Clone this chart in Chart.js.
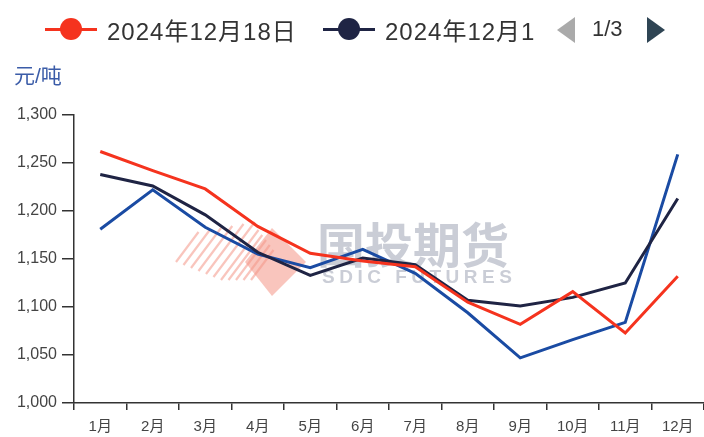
<!DOCTYPE html>
<html>
<head>
<meta charset="utf-8">
<script src="https://cdn.jsdelivr.net/npm/chart.js@4.4.1/dist/chart.umd.min.js"></script>
<style>
  html, body { margin: 0; padding: 0; background: #fff; }
  #wrap { position: relative; width: 704px; height: 437px; overflow: hidden; font-family: "Liberation Sans", "Noto Sans CJK SC", sans-serif; }
  #c { position: absolute; left: 0; top: 0; }
  .leg { position: absolute; top: 14px; height: 30px; display: flex; align-items: center; font-size: 24px; letter-spacing: 1px; color: #333; white-space: nowrap; }
  .icon { position: relative; width: 52px; height: 22px; margin-right: 10px; }
  .icon .ln { position: absolute; left: 0; top: 10px; width: 52px; height: 2.5px; }
  .icon .dot { position: absolute; left: 15px; top: 0px; width: 22px; height: 22px; border-radius: 50%; }
  .clip { overflow: hidden; display: inline-block; }
  #unit { position: absolute; left: 14px; top: 59px; font-size: 21px; color: #3b5ca8; }
  .tri { position: absolute; width: 0; height: 0; }
  #pg { position: absolute; left: 592px; top: 14px; font-size: 22px; color: #333; line-height: 30px; }
</style>
</head>
<body>
<div id="wrap">
  <canvas id="c" width="704" height="437"></canvas>
  <div class="leg" style="left:45px;"><div class="icon"><div class="ln" style="background:#f5331e"></div><div class="dot" style="background:#f5331e"></div></div><span id="l0"></span></div>
  <div class="leg" style="left:323px;"><div class="icon"><div class="ln" style="background:#1f2444"></div><div class="dot" style="background:#1f2444"></div></div><span id="l1" class="clip" style="width:150px"></span></div>
  <div class="tri" style="left:557px; top:17px; border-top:13px solid transparent; border-bottom:13px solid transparent; border-right:18px solid #aaaaaa;"></div>
  <div id="pg">1/3</div>
  <div class="tri" style="left:647px; top:17px; border-top:13px solid transparent; border-bottom:13px solid transparent; border-left:18px solid #2f4554;"></div>
  <div id="unit">元/吨</div>
</div>
<script>
const categories = ["1月","2月","3月","4月","5月","6月","7月","8月","9月","10月","11月","12月"];
const seriesNames = ["2024年12月18日","2024年12月11日","2024年12月4日"];
const seriesA = [1262, 1242, 1223, 1184, 1156, 1148, 1142, 1105, 1082, 1116, 1073, 1132];
const seriesB = [1238, 1226, 1196, 1157, 1133, 1151, 1144, 1107, 1101, 1110, 1125, 1213];
const seriesC = [1181, 1222, 1183, 1155, 1141, 1160, 1135, 1094, 1047, 1066, 1084, 1259];
const yMin = 1000, yMax = 1300, yStep = 50;

document.getElementById('l0').textContent = seriesNames[0];
document.getElementById('l1').textContent = seriesNames[1].slice(0, 10);

const watermark = {
  id: 'watermark',
  beforeDatasetsDraw(chart) {
    const ctx = chart.ctx;
    ctx.save();
    ctx.strokeStyle = 'rgba(244,150,135,0.55)';
    ctx.lineWidth = 2.2;
    for (let i = 0; i < 11; i++) {
      const x0 = 176 + i * 7.5;
      const len = 30 + Math.min(i, 10 - i) * 5;
      ctx.beginPath();
      ctx.moveTo(x0, 262 + Math.min(i,6)*3);
      ctx.lineTo(x0 + len * 0.75, 262 + Math.min(i,6)*3 - len);
      ctx.stroke();
    }
    ctx.fillStyle = 'rgba(244,150,135,0.55)';
    ctx.beginPath();
    ctx.moveTo(272, 228);
    ctx.lineTo(306, 262);
    ctx.lineTo(272, 296);
    ctx.lineTo(245, 262);
    ctx.closePath();
    ctx.fill();
    ctx.fillStyle = 'rgba(180,184,196,0.7)';
    ctx.font = 'bold 48px "Noto Sans CJK SC", sans-serif';
    ctx.textBaseline = 'middle';
    ctx.textAlign = 'left';
    ctx.fillText('国投期货', 317, 245);
    ctx.font = 'bold 19px "Liberation Sans", sans-serif';
    const s = 'SDIC FUTURES';
    let x = 322;
    for (const ch of s) { ctx.fillText(ch, x, 278); x += ctx.measureText(ch).width + 4.5; }
    ctx.restore();
  }
};

new Chart(document.getElementById('c'), {
  type: 'line',
  data: {
    labels: categories,
    datasets: [
      { label: seriesNames[0], data: seriesA, borderColor: '#f5331e', backgroundColor: '#f5331e' },
      { label: seriesNames[1], data: seriesB, borderColor: '#1f2444', backgroundColor: '#1f2444' },
      { label: seriesNames[2], data: seriesC, borderColor: '#1a4ba3', backgroundColor: '#1a4ba3' }
    ].map(d => Object.assign(d, { borderWidth: 3, pointRadius: 0, tension: 0, fill: false }))
  },
  options: {
    responsive: false,
    animation: false,
    devicePixelRatio: 1,
    layout: { padding: { top: 115, right: 0, bottom: 0, left: 0 } },
    plugins: { legend: { display: false }, tooltip: { enabled: false } },
    scales: {
      x: {
        offset: true,
        grid: { offset: true, drawOnChartArea: false, tickLength: 7, color: '#333', lineWidth: 1.5 },
        border: { color: '#333', width: 1.5 },
        ticks: { color: '#444', font: { size: 15, family: '"Liberation Sans", "Noto Sans CJK SC", sans-serif' }, padding: 8, maxRotation: 0, autoSkip: false },
        afterFit(s) { s.height = 34; }
      },
      y: {
        min: yMin, max: yMax,
        grid: { drawOnChartArea: false, tickLength: 12, color: '#333', lineWidth: 1.5 },
        border: { color: '#333', width: 1.5 },
        ticks: { stepSize: yStep, color: '#444', font: { size: 16, family: '"Liberation Sans", sans-serif' }, padding: 5,
          callback: v => v.toLocaleString('en-US') },
        afterFit(s) { s.width = 74; }
      }
    }
  },
  plugins: [watermark]
});
</script>
</body>
</html>
